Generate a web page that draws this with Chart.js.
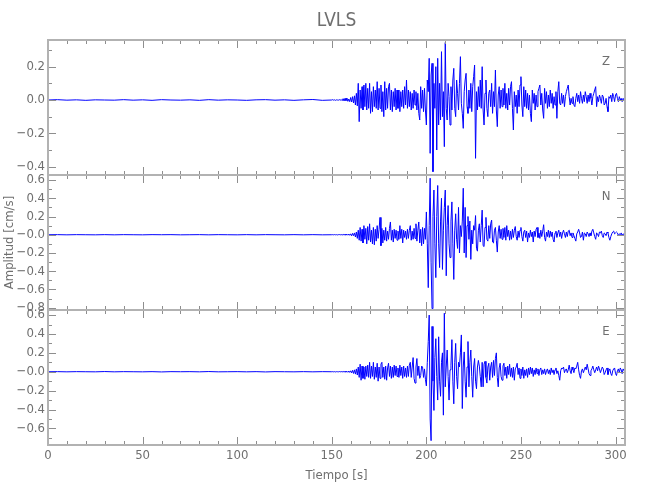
<!DOCTYPE html>
<html>
<head>
<meta charset="utf-8">
<script src="https://cdn.jsdelivr.net/npm/chart.js@4.4.1/dist/chart.umd.min.js"></script>
<style>
  html, body { margin: 0; padding: 0; background: #ffffff; }
  #wrap { width: 650px; height: 500px; }
</style>
</head>
<body>
<div id="wrap"><canvas id="c" width="650" height="500"></canvas></div>
<script>
// ---------- data ----------
const chartTitle = 'LVLS';
const xTitle = 'Tiempo [s]';
const yTitle = 'Amplitud [cm/s]';
const componentNames = ['Z', 'N', 'E'];

const xRange = [0, 305];
const xTicks = [0, 50, 100, 150, 200, 250, 300];
const xTickLabels = ['0', '50', '100', '150', '200', '250', '300'];

const zRange = [-0.45, 0.36];
const zTicks = [-0.4, -0.2, 0.0, 0.2];
const zTickLabels = ['\u22120.4', '\u22120.2', '0.0', '0.2'];

const nRange = [-0.825, 0.655];
const nTicks = [-0.8, -0.6, -0.4, -0.2, 0.0, 0.2, 0.4, 0.6];
const nTickLabels = ['\u22120.8', '\u22120.6', '\u22120.4', '\u22120.2', '\u22120.0', '0.2', '0.4', '0.6'];

const eRange = [-0.776, 0.654];
const eTicks = [-0.6, -0.4, -0.2, 0.0, 0.2, 0.4, 0.6];
const eTickLabels = ['\u22120.6', '\u22120.4', '\u22120.2', '\u22120.0', '0.2', '0.4', '0.6'];

// quiet (pre-event) part: samples every 5 s from 0 s
const quietStart = 0, quietStep = 5;
const zQuiet = [0.000, 0.002, -0.001, 0.001, -0.002, 0.001, 0.000, -0.001, 0.002, -0.001,
                0.001, -0.002, 0.002, 0.000, -0.001, 0.001, -0.002, 0.002, -0.001, 0.001,
                0.000, -0.002, 0.001, 0.002, -0.001, 0.001, -0.002, 0.001, 0.003, -0.002];
const nQuiet = [0.000, 0.001, -0.001, 0.001, 0.000, -0.001, 0.001, -0.001, 0.001, 0.000,
                -0.001, 0.001, 0.000, 0.001, -0.001, 0.000, 0.001, -0.001, 0.001, 0.000,
                -0.001, 0.001, -0.001, 0.001, 0.000, -0.001, 0.001, -0.001, 0.001, -0.001];
const eQuiet = [0.000, 0.001, -0.001, 0.001, 0.000, -0.001, 0.002, -0.001, 0.001, 0.000,
                -0.001, 0.001, -0.002, 0.001, 0.000, 0.001, -0.001, 0.002, -0.001, 0.000,
                0.001, -0.001, 0.001, -0.002, 0.001, 0.000, -0.001, 0.001, -0.001, 0.001];

// event part: samples every 0.5 s from 150 s to 305 s
const eventStart = 150, eventStep = 0.5;
const zEvent = [
  0.000, 0.002, -0.001, 0.001, -0.002, 0.001, 0.000, -0.001, 0.002, -0.001,
  0.003, -0.004, 0.008, -0.006, 0.010, -0.004, 0.012, -0.008, 0.006, -0.010,
  0.015, -0.012, 0.020, -0.018, 0.025, -0.03, 0.04, -0.035, 0.10, -0.13,
  0.06, -0.05, 0.08, -0.06, 0.09, -0.04, 0.10, -0.06, 0.07, -0.05,
  0.10, -0.08, 0.05, -0.07, 0.08, -0.04, 0.06, -0.05, 0.11, -0.06,
  0.07, -0.05, 0.09, -0.07, 0.05, -0.10, 0.11, -0.06, 0.07, -0.05,
  0.08, 0.10, -0.06, 0.06, -0.07, 0.05, -0.04, 0.07, -0.06, 0.06,
  -0.05, 0.06, -0.07, 0.05, -0.04, 0.06, -0.05, 0.08, -0.03, 0.12,
  -0.05, 0.06, -0.04, 0.05, -0.06, 0.04, -0.05, 0.06, -0.03, 0.05,
  -0.06, 0.04, -0.08, -0.12, 0.08, -0.05, 0.06, -0.07, 0.07, -0.06,
  -0.15, 0.12, 0.05, 0.25, -0.32, 0.15, 0.22, -0.43, 0.10, -0.05,
  0.20, -0.30, 0.25, -0.15, 0.10, -0.12, 0.29, -0.10, 0.05, -0.28,
  0.345, -0.05, -0.12, 0.10, 0.02, -0.15, 0.08, -0.06, 0.12, 0.19,
  -0.05, -0.10, 0.12, 0.04, -0.06, 0.10, 0.26, -0.02, -0.08, -0.17,
  0.05, 0.12, 0.16, -0.04, -0.08, 0.06, -0.05, 0.10, -0.07, 0.08,
  0.14, 0.21, -0.35, 0.05, -0.06, 0.08, -0.04, 0.12, -0.05, 0.20,
  -0.06, -0.15, 0.04, 0.12, -0.05, -0.10, 0.04, 0.06, -0.04, 0.10,
  -0.08, 0.05, -0.04, 0.18, -0.06, -0.16, 0.03, 0.08, -0.05, 0.06,
  -0.04, 0.07, -0.03, 0.10, -0.05, 0.04, -0.06, 0.07, -0.03, 0.08,
  0.11, -0.05, -0.18, 0.05, -0.04, 0.03, -0.08, 0.06, -0.04, 0.09,
  0.14, -0.03, -0.10, 0.08, -0.04, 0.06, -0.05, 0.04, -0.06, 0.03,
  -0.08, -0.13, 0.06, -0.02, 0.04, -0.06, 0.03, -0.04, 0.05, 0.07,
  0.09, -0.03, 0.04, -0.06, -0.11, 0.07, -0.02, 0.05, -0.05, 0.03,
  -0.04, 0.06, -0.02, 0.04, -0.05, 0.02, -0.03, 0.05, -0.11, 0.05,
  0.11, -0.02, -0.03, 0.04, -0.02, 0.03, -0.04, 0.02, 0.05, 0.07,
  0.09, 0.02, -0.03, 0.01, -0.02, 0.02, -0.03, -0.04, 0.01, 0.04,
  -0.01, 0.03, -0.02, 0.05, 0.01, -0.02, 0.03, -0.01, 0.05, 0.02,
  -0.02, 0.03, -0.01, 0.04, 0.01, -0.03, 0.02, 0.04, 0.06, 0.08,
  -0.04, 0.02, -0.01, 0.03, 0.01, -0.02, 0.03, 0.02, -0.03, -0.02,
  0.01, -0.04, -0.07, 0.02, 0.01, 0.03, -0.01, 0.04, 0.02, -0.01,
  0.03, 0.04, 0.01, -0.01, 0.02, 0.00, 0.01, -0.01, 0.01, 0.00,
  0.00
];
const nEvent = [
  0.000, 0.001, -0.001, 0.002, -0.001, 0.001, -0.002, 0.001, 0.002, -0.001,
  0.002, -0.003, 0.004, -0.003, 0.005, -0.004, 0.006, -0.005, 0.008, -0.006,
  0.010, -0.012, 0.015, -0.010, 0.020, -0.025, 0.03, -0.04, 0.05, -0.06,
  0.08, -0.07, 0.06, -0.09, 0.10, -0.05, 0.07, -0.10, 0.09, -0.06,
  0.12, -0.08, 0.05, -0.10, 0.08, -0.11, 0.06, -0.07, 0.10, -0.04,
  0.06, 0.19, -0.12, 0.07, -0.09, 0.05, -0.06, 0.08, -0.07, 0.04,
  -0.05, 0.07, 0.14, -0.06, 0.05, -0.08, 0.06, -0.04, 0.05, -0.06,
  0.04, -0.05, 0.10, -0.04, 0.06, -0.09, 0.05, -0.03, 0.04, -0.05,
  0.06, -0.04, 0.05, 0.10, -0.06, 0.04, -0.05, 0.07, -0.04, 0.12,
  -0.07, 0.05, 0.14, -0.09, 0.06, -0.12, 0.08, -0.10, 0.07, -0.05,
  0.25, -0.10, -0.58, 0.10, 0.62, -0.30, -0.81, 0.20, 0.49, -0.10,
  -0.47, 0.20, 0.54, -0.10, -0.36, 0.15, 0.40, -0.38, 0.05, 0.30,
  0.49, -0.45, 0.10, 0.32, -0.10, -0.25, 0.15, 0.36, -0.10, -0.49,
  0.05, 0.23, -0.05, -0.15, 0.30, -0.20, 0.10, -0.02, 0.15, 0.51,
  -0.20, 0.30, -0.25, 0.10, 0.20, -0.05, 0.15, -0.27, 0.05, -0.10,
  0.10, 0.05, 0.21, -0.15, -0.18, 0.05, 0.12, -0.08, 0.10, 0.27,
  -0.12, -0.13, 0.08, 0.19, -0.05, -0.07, 0.10, -0.04, 0.12, 0.16,
  -0.08, -0.09, 0.05, 0.08, -0.06, -0.19, 0.03, 0.10, -0.04, 0.06,
  -0.05, 0.07, -0.03, 0.08, -0.06, 0.10, -0.02, 0.05, -0.06, 0.04,
  -0.05, 0.06, -0.03, 0.05, 0.09, -0.02, -0.06, 0.04, -0.03, 0.05,
  0.08, -0.02, -0.07, 0.03, 0.05, -0.03, 0.04, -0.08, 0.02, -0.03,
  0.05, -0.02, 0.03, -0.08, 0.04, -0.02, 0.06, 0.08, -0.03, 0.02,
  -0.04, 0.05, -0.02, 0.04, 0.11, -0.03, -0.07, 0.03, -0.02, 0.05,
  -0.03, 0.04, -0.02, 0.03, -0.05, -0.08, 0.02, 0.04, -0.03, 0.02,
  0.05, -0.02, 0.03, -0.04, 0.02, 0.05, 0.01, -0.03, 0.03, -0.02,
  0.04, 0.05, -0.01, 0.02, -0.03, 0.02, -0.01, -0.04, -0.07, 0.01,
  0.03, 0.06, 0.02, -0.03, -0.02, 0.03, -0.06, 0.02, 0.01, -0.02,
  0.03, 0.01, -0.02, 0.02, -0.01, 0.04, 0.06, 0.02, -0.02, -0.05,
  0.02, 0.01, -0.02, 0.03, 0.02, 0.04, -0.01, -0.03, 0.02, 0.01,
  -0.01, 0.03, 0.02, -0.03, -0.06, -0.02, 0.01, 0.03, 0.04, 0.01,
  0.02, 0.03, 0.02, -0.01, 0.01, 0.00, 0.02, -0.01, 0.01, 0.00,
  0.00
];
const eEvent = [
  0.000, 0.001, -0.001, 0.001, -0.002, 0.001, 0.000, -0.001, 0.002, -0.001,
  0.002, -0.002, 0.003, -0.003, 0.004, -0.004, 0.005, -0.006, 0.008, -0.007,
  0.010, -0.012, 0.015, -0.018, 0.02, -0.025, 0.03, -0.035, 0.05, -0.06,
  0.08, -0.09, 0.06, -0.07, 0.05, -0.08, 0.06, -0.05, 0.07, -0.06,
  0.10, -0.07, 0.06, -0.05, 0.10, -0.08, 0.05, -0.06, 0.09, -0.10,
  0.05, -0.07, 0.08, 0.10, -0.06, 0.05, -0.08, 0.06, -0.09, 0.04,
  0.09, -0.05, 0.06, -0.07, 0.05, -0.06, 0.07, -0.04, 0.06, -0.05,
  0.04, -0.06, 0.07, -0.04, 0.05, -0.07, 0.06, -0.05, 0.04, -0.06,
  0.06, -0.05, 0.07, 0.10, -0.06, 0.05, 0.15, -0.07, -0.12, 0.05,
  0.14, -0.04, 0.06, -0.07, -0.04, 0.06, 0.05, -0.06, 0.03, -0.08,
  -0.15, 0.10, 0.32, 0.60, -0.50, -0.73, 0.48, -0.10, -0.41, 0.15,
  0.35, -0.05, -0.30, 0.37, -0.10, -0.26, 0.10, 0.20, -0.46, 0.62,
  -0.16, 0.05, 0.23, -0.05, -0.30, 0.02, 0.07, 0.34, -0.10, -0.34,
  0.10, 0.30, -0.05, -0.18, 0.10, 0.05, 0.20, 0.39, -0.39, 0.05,
  0.21, -0.10, -0.27, 0.05, 0.32, -0.16, 0.10, 0.23, -0.05, -0.27,
  0.05, 0.14, -0.10, -0.18, 0.05, 0.12, 0.06, -0.05, -0.16, 0.10,
  -0.16, 0.08, 0.11, -0.06, -0.12, 0.05, 0.09, -0.09, 0.05, 0.10,
  -0.06, 0.12, -0.04, 0.14, 0.20, -0.06, -0.16, 0.04, 0.09, -0.05,
  -0.09, 0.06, 0.09, -0.04, 0.05, -0.07, 0.06, -0.03, 0.08, -0.05,
  0.04, -0.06, 0.05, -0.09, 0.03, 0.05, 0.09, -0.03, 0.04, -0.07,
  0.03, -0.04, 0.05, -0.07, 0.02, -0.04, 0.03, -0.06, 0.04, -0.03,
  0.05, -0.02, 0.04, -0.05, 0.02, -0.03, 0.04, -0.02, 0.03, -0.04,
  0.02, 0.04, -0.03, 0.02, -0.02, 0.03, -0.03, 0.01, 0.03, -0.02,
  0.02, -0.03, 0.04, -0.01, 0.02, -0.03, 0.02, 0.04, -0.02, 0.01,
  -0.04, -0.09, 0.01, 0.04, 0.03, 0.05, -0.01, 0.02, 0.03, -0.01,
  0.02, 0.07, 0.01, -0.02, 0.05, 0.02, -0.01, 0.04, 0.03, 0.06,
  0.10, 0.02, -0.04, -0.07, 0.01, 0.03, -0.01, 0.02, 0.05, 0.02,
  0.08, 0.03, -0.02, -0.04, 0.01, 0.03, 0.06, 0.02, -0.01, 0.02,
  0.05, 0.01, 0.06, 0.03, -0.01, 0.02, 0.05, 0.03, -0.03, -0.01,
  0.02, 0.04, -0.03, 0.01, 0.03, -0.02, -0.04, 0.01, 0.03, 0.04,
  -0.02, -0.04, 0.01, 0.03, -0.01, 0.04, 0.02, -0.02, 0.03, 0.01,
  0.00
];

// ---------- styles ----------
const FONT = "'Liberation Sans Narrow', 'DejaVu Sans Condensed', 'Roboto Condensed', 'Liberation Sans', sans-serif";
const textColor = '#6f6f6f';
const frameColor = '#b2b2b2';
const tickColor = '#8e8e8e';
const traceColor = '#0000ff';

function buildSeries(quiet, event) {
  const pts = [];
  quiet.forEach((v, i) => pts.push({ x: quietStart + i * quietStep, y: v }));
  event.forEach((v, i) => pts.push({ x: eventStart + i * eventStep, y: v }));
  return pts;
}

function yAxis(range, ticks, labels, weight, showTitle) {
  return {
    type: 'linear',
    position: 'left',
    stack: 'panels',
    stackWeight: 1,
    weight: weight,
    min: range[0],
    max: range[1],
    afterBuildTicks: (s) => { s.ticks = ticks.map(v => ({ value: v })); },
    afterFit: (s) => { s.width = 48; },
    grid: { display: false, drawTicks: false },
    border: { display: false },
    ticks: {
      autoSkip: false,
      padding: 3,
      color: textColor,
      font: { family: FONT, size: 13 },
      callback: (v, i) => labels[i]
    },
    title: {
      display: showTitle,
      text: yTitle,
      color: textColor,
      font: { family: FONT, size: 13 },
      padding: { top: 2, bottom: 0 }
    }
  };
}

const panelPlugin = {
  id: 'panelFrames',
  afterDraw(chart) {
    const ctx = chart.ctx;
    const xs = chart.scales.x;
    const left = chart.chartArea.left;
    const right = chart.chartArea.right;
    ['yZ', 'yN', 'yE'].forEach((id, k) => {
      const ys = chart.scales[id];
      const top = ys.top, bottom = ys.bottom;
      ctx.save();
      ctx.strokeStyle = tickColor;
      ctx.lineWidth = 1;
      ctx.beginPath();
      for (let t = xs.min; t <= xs.max + 1e-9; t += 10) {
        const px = Math.round(xs.getPixelForValue(t)) + 0.5;
        const len = (Math.round(t) % 50 === 0) ? 8 : 4;
        ctx.moveTo(px, top); ctx.lineTo(px, top + len);
        ctx.moveTo(px, bottom); ctx.lineTo(px, bottom - len);
      }
      const i0 = Math.ceil(ys.min * 10 - 1e-6), i1 = Math.floor(ys.max * 10 + 1e-6);
      for (let i = i0; i <= i1; i++) {
        const py = Math.round(ys.getPixelForValue(i / 10)) + 0.5;
        const len = (Math.abs(i) % 2 === 0) ? 8 : 4;
        ctx.moveTo(left, py); ctx.lineTo(left + len, py);
        ctx.moveTo(right, py); ctx.lineTo(right - len, py);
      }
      ctx.stroke();
      ctx.strokeStyle = frameColor;
      ctx.lineWidth = 2;
      ctx.strokeRect(left, top, right - left, bottom - top);
      ctx.fillStyle = textColor;
      ctx.font = '13px ' + FONT;
      ctx.textAlign = 'center';
      ctx.textBaseline = 'middle';
      ctx.fillText(componentNames[k], right - 19, top + 22);
      ctx.restore();
    });
  }
};

const ds = (data, axis) => ({
  data: data,
  yAxisID: axis,
  xAxisID: 'x',
  borderColor: traceColor,
  borderWidth: 1,
  pointRadius: 0,
  tension: 0,
  fill: false
});

new Chart(document.getElementById('c'), {
  type: 'line',
  data: {
    datasets: [
      ds(buildSeries(zQuiet, zEvent), 'yZ'),
      ds(buildSeries(nQuiet, nEvent), 'yN'),
      ds(buildSeries(eQuiet, eEvent), 'yE')
    ]
  },
  options: {
    responsive: false,
    animation: false,
    devicePixelRatio: 1,
    layout: { padding: { left: 0, right: 25, top: 0, bottom: 0 } },
    plugins: {
      legend: { display: false },
      tooltip: { enabled: false },
      title: {
        display: true,
        text: chartTitle,
        fullSize: false,
        color: textColor,
        font: { family: FONT, size: 19, weight: 'normal', lineHeight: 1 },
        padding: { top: 12, bottom: 9 }
      }
    },
    scales: {
      x: {
        type: 'linear',
        position: 'bottom',
        min: xRange[0],
        max: xRange[1],
        afterBuildTicks: (s) => { s.ticks = xTicks.map(v => ({ value: v })); },
        afterFit: (s) => { s.height = 55; },
        grid: { display: false, drawTicks: false },
        border: { display: false },
        ticks: {
          autoSkip: false,
          maxRotation: 0,
          padding: 3,
          color: textColor,
          font: { family: FONT, size: 13 },
          callback: (v, i) => xTickLabels[i]
        },
        title: {
          display: true,
          text: xTitle,
          color: textColor,
          font: { family: FONT, size: 13 },
          padding: { top: 0, bottom: 17 }
        }
      },
      yE: yAxis(eRange, eTicks, eTickLabels, 1, false),
      yN: yAxis(nRange, nTicks, nTickLabels, 2, true),
      yZ: yAxis(zRange, zTicks, zTickLabels, 3, false)
    }
  },
  plugins: [panelPlugin]
});
</script>
</body>
</html>
